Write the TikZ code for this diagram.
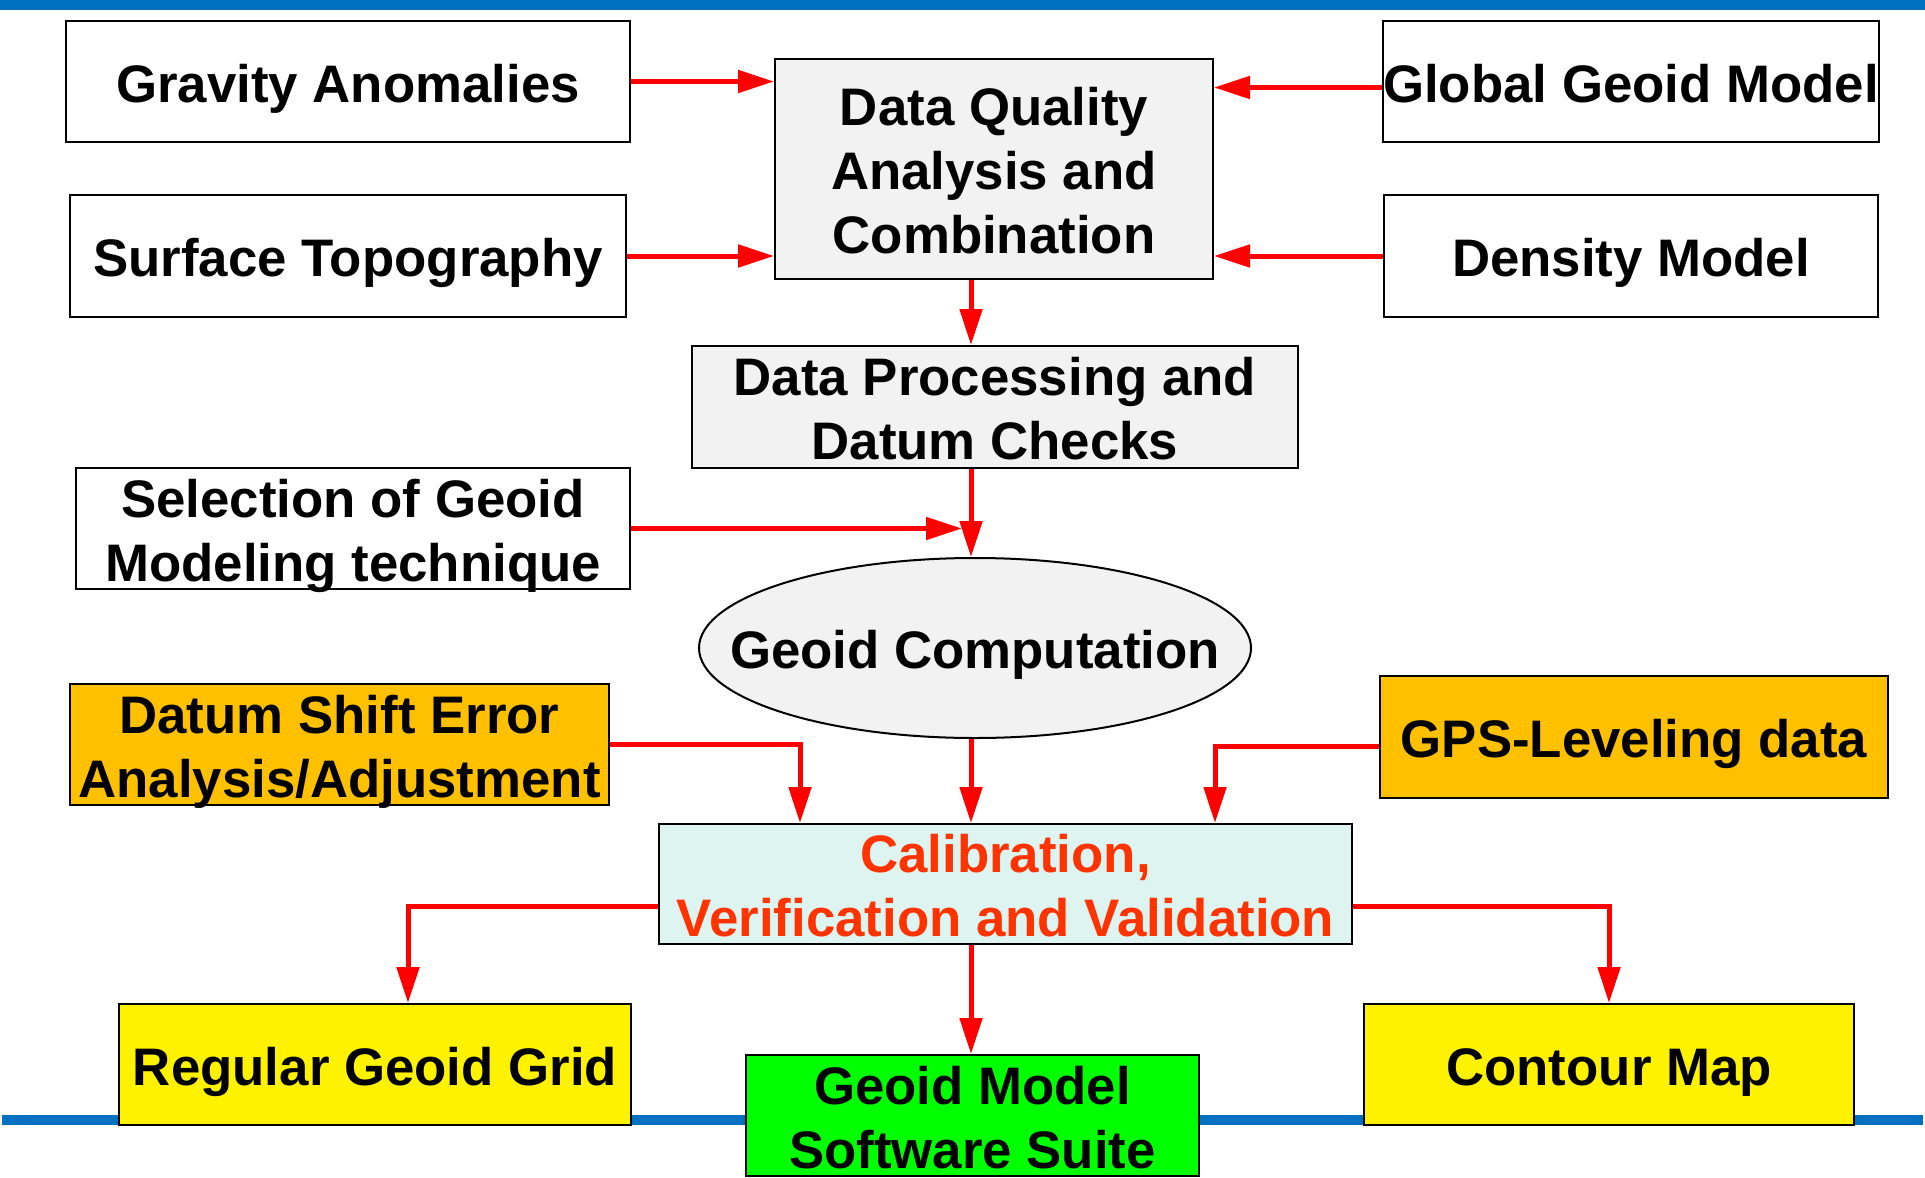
\documentclass[tikz,border=0pt]{standalone}
\usepackage{fontspec}
\setmainfont{Liberation Sans}
\usetikzlibrary{arrows.meta, shapes.geometric}

\definecolor{barblue}{HTML}{0070C0}
\definecolor{boxgray}{HTML}{F2F2F2}
\definecolor{boxorange}{HTML}{FFC000}
\definecolor{boxcyan}{HTML}{DDF4F0}
\definecolor{calred}{HTML}{FF3300}

\newcommand{\topline}{\rule{0pt}{26.2pt}}

\begin{document}
\begin{tikzpicture}[x=0.5pt, y=-0.5pt,
    >={Triangle[length=18pt, width=11pt]},
    box/.style={draw=black, line width=1pt, rectangle, align=center,
      inner xsep=0pt, inner ysep=-3pt,
      font=\bfseries\fontsize{26.4}{32}\selectfont,
      execute at begin node={\topline},
      execute at end node={\rule[-5.6pt]{0pt}{5.6pt}}},
    flow/.style={->, draw=red, line width=2.5pt},
    bar/.style={draw=barblue, line width=5pt}]
  \useasboundingbox (0,0) rectangle (1925,1177);

  % blue bars
  \draw[bar] (0,5) -- (1925,5);
  \draw[bar] (2,1120) -- (1923,1120);

  % inputs
  \node[box, minimum width=282pt, minimum height=60.5pt] (grav) at (348,81.5) {Gravity Anomalies};
  \node[box, minimum width=278pt, minimum height=61pt] (surf) at (348,256) {Surface Topography};
  \node[box, minimum width=247pt, minimum height=60.5pt] (glob) at (1631,81.5) {Global Geoid Model};
  \node[box, minimum width=247pt, minimum height=61pt] (dens) at (1631,256) {Density Model};
  \node[box, fill=boxgray, minimum width=219pt, minimum height=110pt] (qual) at (994,169)
    {\topline Data Quality\\Analysis and\\Combination};
  \node[box, fill=boxgray, minimum width=303pt, minimum height=61pt] (proc) at (995,407)
    {\topline Data Processing and\\Datum Checks};
  \node[box, minimum width=277pt, minimum height=60.5pt] (sel) at (353,528.5)
    {\topline Selection of Geoid\\Modeling technique};
  \node[box, ellipse, inner sep=0pt, fill=boxgray, minimum width=276pt, minimum height=90pt] (geo) at (975,648)
    {\makebox[0pt]{Geoid Computation}};
  \node[box, fill=boxorange, minimum width=269.5pt, minimum height=60.5pt] (shift) at (339.5,744.5)
    {\topline Datum Shift Error\\Analysis/Adjustment};
  \node[box, fill=boxorange, minimum width=254pt, minimum height=61pt] (gps) at (1634,737)
    {GPS-Leveling data};
  \node[box, fill=boxcyan, text=calred, minimum width=346.5pt, minimum height=60pt] (cal) at (1005.5,884)
    {\topline Calibration,\\Verification and Validation};

  % outputs
  \node[box, fill=yellow, minimum width=256pt, minimum height=60.5pt] (grid) at (375,1064.5)
    {Regular Geoid Grid};
  \node[box, fill=green, minimum width=226.5pt, minimum height=60.5pt] (suite) at (972.5,1115.5)
    {\topline Geoid Model\\Software Suite};
  \node[box, fill=yellow, minimum width=245pt, minimum height=60.5pt] (cmap) at (1609,1064.5)
    {Contour Map};

  % connector axes
  \coordinate (axis) at (971,0);
  \coordinate (lin) at (800,0);
  \coordinate (rin) at (1215,0);
  \coordinate (lout) at (408,0);
  \coordinate (selend) at (962,0);
  \coordinate (globout) at ([yshift=-3pt]glob.west);
  \coordinate (gpsout) at ([yshift=-4.5pt]gps.west);
  \coordinate (calleft) at ([yshift=-11pt]cal.west);
  \coordinate (calright) at ([yshift=-11pt]cal.east);

  \draw[flow] (grav.east) -- (qual.west |- grav.east);
  \draw[flow] (surf.east) -- (qual.west |- surf.east);
  \draw[flow] (globout) -- (qual.east |- globout);
  \draw[flow] (dens.west) -- (qual.east |- dens.west);
  \draw[flow] (qual.south -| axis) -- (proc.north -| axis);
  \draw[flow] (proc.south -| axis) -- (geo.north -| axis);
  \draw[flow] (sel.east) -- (selend |- sel.east);
  \draw[flow] (geo.south -| axis) -- (cal.north -| axis);
  \draw[flow] (shift.east) -| (cal.north -| lin);
  \draw[flow] (gpsout) -| (cal.north -| rin);
  \draw[flow] (calleft) -| (grid.north -| lout);
  \draw[flow] (cal.south -| axis) -- (suite.north -| axis);
  \draw[flow] (calright) -| (cmap.north);
\end{tikzpicture}
\end{document}
